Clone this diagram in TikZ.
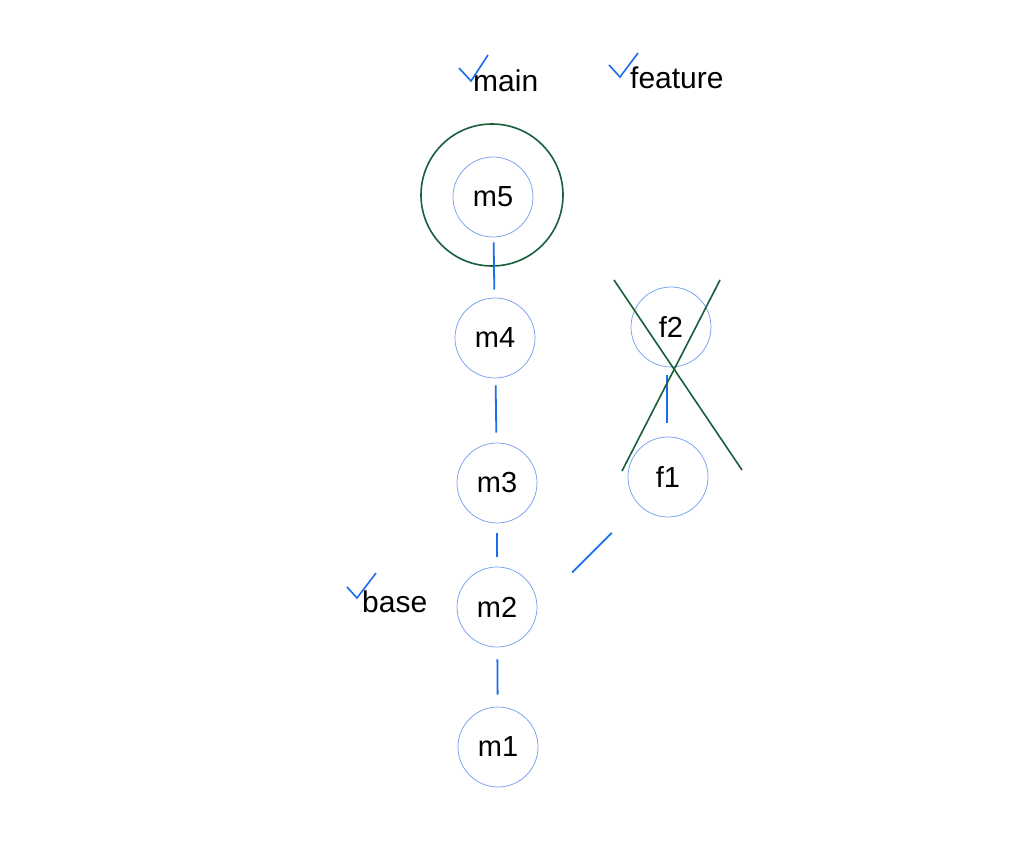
\documentclass[tikz,border=0pt]{standalone}
\usepackage{fontspec}
\setmainfont{Liberation Sans}
\begin{document}
\begin{tikzpicture}[x=1pt,y=-1pt,
  commit/.style={circle,draw=ringblue,line width=0.7pt,minimum size=80pt,inner sep=0pt,
    font=\fontsize{29}{34}\selectfont},
  link/.style={draw=linkblue,line width=1.8pt},
  branch/.style={anchor=base west,inner sep=0pt,font=\fontsize{30}{35}\selectfont},
  tick/.style={draw=linkblue,line width=1.6pt},
  crossline/.style={draw=markgreen,line width=1.6pt}]
\definecolor{ringblue}{RGB}{110,155,240}
\definecolor{linkblue}{RGB}{26,110,235}
\definecolor{markgreen}{RGB}{25,95,60}
\useasboundingbox (0,0) rectangle (1025,858);
\fill[white] (0,0) rectangle (1025,858);

% commits on main
\node[commit] (m5) at (493,197) {m5};
\node[commit] (m4) at (495,338) {m4};
\node[commit] (m3) at (497,483) {m3};
\node[commit] (m2) at (497,607) {m2};
\node[commit] (m1) at (498,747) {m1};
% commits on feature
\node[commit] (f2) at (671,327) {f2};
\node[commit] (f1) at (668,477) {f1};

% current HEAD ring
\node[circle,draw=markgreen,line width=1.6pt,minimum size=142pt,inner sep=0pt] (head) at (492,195) {};

% parent links
\draw[link,shorten <=5pt,shorten >=8pt] (m5) -- (m4);
\draw[link,shorten <=7pt,shorten >=10pt] (m4) -- (m3);
\draw[link,shorten <=10pt,shorten >=10pt] (m3) -- (m2);
\draw[link,shorten <=12pt,shorten >=12pt] (m2) -- (m1);
\path (f2.south) ++(-4,0) coordinate (f2b);
\path (f1.north) ++(-1,0) coordinate (f1t);
\draw[link,shorten <=8pt,shorten >=14pt] (f2b) -- (f1t);
\draw[link,shorten <=39pt,shorten >=49pt] (f1) -- (m2.east);

% discarded branch tip
\coordinate (xa1) at (614,280);
\coordinate (xa2) at (742,470);
\coordinate (xb1) at (720,280);
\coordinate (xb2) at (622,471);
\draw[crossline] (xa1) -- (xa2);
\draw[crossline] (xb1) -- (xb2);

% branch labels
\node[branch] (lmain) at (473,92) {main};
\node[branch] (lfeature) at (630,89) {feature};
\node[branch] (lbase) at (362,612) {base};
\draw[tick] (459,68) -- (471,81) -- (488,55);
\draw[tick] (609,65) -- (620,77) -- (638,53);
\draw[tick] (347,587) -- (357,598) -- (376,573);
\end{tikzpicture}
\end{document}
